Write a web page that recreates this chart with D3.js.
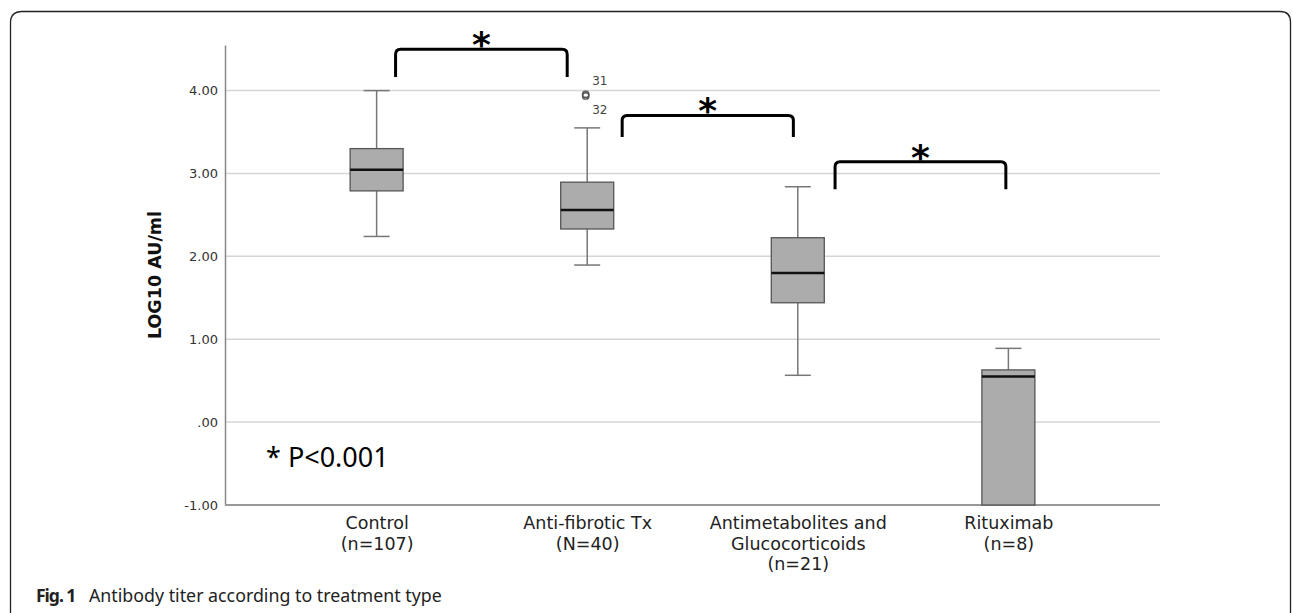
<!DOCTYPE html>
<html>
<head>
<meta charset="utf-8">
<script src="https://cdn.jsdelivr.net/npm/d3@7"></script>
<style>
  body { margin: 0; background: #fff; }
  svg { display: block; }
</style>
</head>
<body>
<div id="chart"></div>
<script>
// values (LOG10 AU/ml)
const groups      = ['Control', 'Anti-fibrotic Tx', 'Antimetabolites and Glucocorticoids', 'Rituximab']
const groupLabels = [['Control', '(n=107)'], ['Anti-fibrotic Tx', '(N=40)'],
                     ['Antimetabolites and', 'Glucocorticoids', '(n=21)'], ['Rituximab', '(n=8)']]
const whiskerLow  = [2.24, 1.895, 0.565, -1.00]
const q1          = [2.79, 2.33, 1.44, -1.00]
const median      = [3.045, 2.56, 1.80, 0.55]
const q3          = [3.30, 2.895, 2.225, 0.63]
const whiskerHigh = [4.00, 3.55, 2.84, 0.89]
const outlierGroup = ['Anti-fibrotic Tx', 'Anti-fibrotic Tx']
const outlierValue = [3.955, 3.935]
const outlierId    = ['31', '32']
const yTicks      = [-1, 0, 1, 2, 3, 4]
const yTickLabels = ['-1.00', '.00', '1.00', '2.00', '3.00', '4.00']
// significance brackets: from/to in group-index units, top/bottom in data units
const bracketFrom   = [0.09, 1.166, 2.177]
const bracketTo     = [0.905, 1.979, 2.988]
const bracketTop    = [4.50, 3.70, 3.14]
const bracketBottom = [4.165, 3.44, 2.81]

const width  = 1293,
      height = 613,
      plot   = { left: 225, right: 1160, top: 45, bottom: 505 },
      boxWidth = 53,
      capWidth = 26

const svg = d3.select('#chart')
  .append('svg')
  .attr('width', width)
  .attr('height', height)

// card frame
svg.append('path')
  .attr('d', `M10.5,${height + 5} V23 Q10.5,11.5 22,11.5 H1280 Q1290.5,11.5 1290.5,22 V${height + 5}`)
  .attr('fill', 'none')
  .attr('stroke', '#222')
  .attr('stroke-width', 1.3)

const x = d3.scalePoint()
  .domain(groups)
  .range([plot.left, plot.right])
  .padding(0.72)

const xi = d3.scaleLinear()
  .domain([0, groups.length - 1])
  .range([x(groups[0]), x(groups[groups.length - 1])])

const y = d3.scaleLinear()
  .domain([-1, 4.55])
  .range([plot.bottom, plot.top])

// gridlines
svg.append('g')
  .selectAll('line')
  .data(yTicks.filter(d => d > -1))
  .join('line')
    .attr('x1', plot.left)
    .attr('x2', plot.right)
    .attr('y1', d => y(d))
    .attr('y2', d => y(d))
    .attr('stroke', '#d6d6d6')
    .attr('stroke-width', 1.5)

// y axis
const axisY = d3.axisLeft(y)
  .tickValues(yTicks)
  .tickFormat((d, i) => yTickLabels[i])
  .tickSize(0)
  .tickPadding(7)

const gy = svg.append('g')
  .attr('transform', `translate(${plot.left},0)`)
  .call(axisY)
gy.select('.domain').attr('stroke', '#888').attr('stroke-width', 1.5)
gy.selectAll('text')
  .attr('font-family', 'DejaVu Sans')
  .attr('font-size', 13)
  .attr('fill', '#333')

// x axis
const axisX = d3.axisBottom(x).tickSize(0).tickFormat('')
const gx = svg.append('g')
  .attr('transform', `translate(0,${plot.bottom})`)
  .call(axisX)
gx.select('.domain')
  .attr('d', `M${plot.left},0H${plot.right}`)
  .attr('stroke', '#999')
  .attr('stroke-width', 2)

gx.selectAll('.tick text').remove()
gx.selectAll('.tick')
  .append('text')
    .attr('font-family', 'DejaVu Sans')
    .attr('font-size', 17.5)
    .attr('fill', '#222')
    .attr('text-anchor', 'middle')
    .selectAll('tspan')
    .data((d, i) => groupLabels[i])
    .join('tspan')
      .attr('x', 0)
      .attr('y', (d, i) => 24 + i * 20.6)
      .text(d => d)

// y label
svg.append('text')
  .attr('transform', `translate(161,${(y(-1) + y(4.55)) / 2}) rotate(-90)`)
  .attr('text-anchor', 'middle')
  .attr('font-family', 'DejaVu Sans')
  .attr('font-weight', 'bold')
  .attr('font-size', 17.5)
  .attr('fill', '#111')
  .text('LOG10 AU/ml')

// boxes
const box = svg.append('g')
  .selectAll('g')
  .data(groups)
  .join('g')
    .attr('transform', d => `translate(${x(d)},0)`)

box.append('line')
  .attr('y1', (d, i) => y(whiskerHigh[i]))
  .attr('y2', (d, i) => y(q3[i]))
  .attr('stroke', '#777').attr('stroke-width', 1.5)
box.append('line')
  .attr('y1', (d, i) => y(q1[i]))
  .attr('y2', (d, i) => y(whiskerLow[i]))
  .attr('stroke', '#777').attr('stroke-width', 1.5)
box.filter((d, i) => whiskerLow[i] < q1[i]).append('line')
  .attr('x1', -capWidth / 2).attr('x2', capWidth / 2)
  .attr('y1', d => y(whiskerLow[groups.indexOf(d)]))
  .attr('y2', d => y(whiskerLow[groups.indexOf(d)]))
  .attr('stroke', '#777').attr('stroke-width', 1.5)
box.append('line')
  .attr('x1', -capWidth / 2).attr('x2', capWidth / 2)
  .attr('y1', (d, i) => y(whiskerHigh[i]))
  .attr('y2', (d, i) => y(whiskerHigh[i]))
  .attr('stroke', '#777').attr('stroke-width', 1.5)
box.append('rect')
  .attr('x', -boxWidth / 2)
  .attr('width', boxWidth)
  .attr('y', (d, i) => y(q3[i]))
  .attr('height', (d, i) => y(q1[i]) - y(q3[i]))
  .attr('fill', '#acacac')
  .attr('stroke', '#555')
  .attr('stroke-width', 1.3)
box.append('line')
  .attr('x1', -boxWidth / 2).attr('x2', boxWidth / 2)
  .attr('y1', (d, i) => y(median[i]))
  .attr('y2', (d, i) => y(median[i]))
  .attr('stroke', '#111').attr('stroke-width', 2.5)

// outliers
const out = svg.append('g')
  .selectAll('g')
  .data(outlierValue)
  .join('g')
    .attr('transform', (d, i) => `translate(${x(outlierGroup[i]) - 1.5},${y(d)})`)
out.append('circle')
  .attr('r', 3.2)
  .attr('fill', 'none')
  .attr('stroke', '#555')
  .attr('stroke-width', 1.4)
out.append('text')
  .attr('x', 6.5)
  .attr('y', (d, i) => i === 0 ? -9 : 18)
  .attr('font-family', 'DejaVu Sans')
  .attr('font-size', 12)
  .attr('fill', '#444')
  .text((d, i) => outlierId[i])

// significance brackets
const br = svg.append('g')
  .selectAll('g')
  .data(bracketFrom)
  .join('g')
br.append('path')
  .attr('d', (d, i) => {
    const x0 = xi(d), x1 = xi(bracketTo[i]),
          t = y(bracketTop[i]), b = y(bracketBottom[i]), r = 5
    return `M${x0},${b}V${t + r}Q${x0},${t} ${x0 + r},${t}H${x1 - r}Q${x1},${t} ${x1},${t + r}V${b}`
  })
  .attr('fill', 'none')
  .attr('stroke', '#000')
  .attr('stroke-width', 3)
br.append('text')
  .attr('x', (d, i) => (xi(d) + xi(bracketTo[i])) / 2)
  .attr('y', (d, i) => y(bracketTop[i]) + 8)
  .attr('text-anchor', 'middle')
  .attr('font-family', 'DejaVu Sans')
  .attr('font-weight', 'bold')
  .attr('font-size', 36)
  .attr('fill', '#000')
  .text('*')

// note
svg.append('text')
  .attr('x', 266)
  .attr('y', 467)
  .attr('font-family', 'Noto Sans')
  .attr('font-size', 27)
  .attr('fill', '#000')
  .text('* P<0.001')

// caption
const cap = svg.append('text')
  .attr('x', 36)
  .attr('y', 602)
  .attr('font-family', 'Noto Sans')
  .attr('font-size', 17.8)
  .attr('fill', '#222')
cap.append('tspan')
  .attr('font-weight', 'bold')
  .attr('font-size', 17.5)
  .attr('letter-spacing', -1)
  .text('Fig. 1')
cap.append('tspan').attr('x', 89).text('Antibody titer according to treatment type')
</script>
</body>
</html>
